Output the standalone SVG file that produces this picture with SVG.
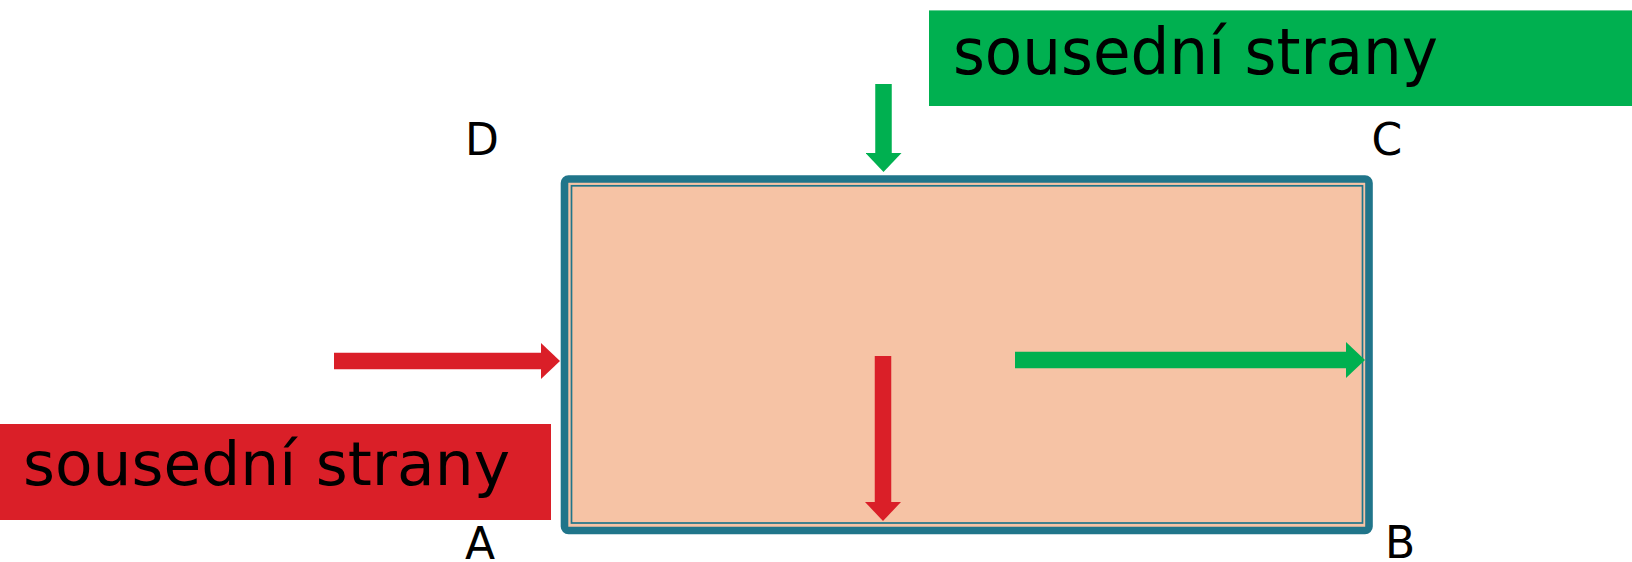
<svg xmlns="http://www.w3.org/2000/svg" width="1632" height="562" viewBox="0 0 1632 562">
  <style>
    .lbl { font-family: "DejaVu Sans", "Liberation Sans", sans-serif; fill: #000; }
    .corner { font-family: "DejaVu Sans", "Liberation Sans", sans-serif; font-size: 44px; fill: #000; }
    .red { stroke: #DA1F28; stroke-width: 16.5; fill: none; }
    .green { stroke: #00B050; stroke-width: 16.5; fill: none; }
  </style>
  <defs>
    <marker id="headRed" markerUnits="userSpaceOnUse" viewBox="0 0 19 36" markerWidth="19" markerHeight="36" refX="1" refY="18" orient="auto">
      <path d="M0,0 L19,18 L0,36 Z" fill="#DA1F28"/>
    </marker>
    <marker id="headGreen" markerUnits="userSpaceOnUse" viewBox="0 0 19 36" markerWidth="19" markerHeight="36" refX="1" refY="18" orient="auto">
      <path d="M0,0 L19,18 L0,36 Z" fill="#00B050"/>
    </marker>
  </defs>

  <g id="rectangle">
    <rect x="564.5" y="179" width="804.5" height="351.5" rx="4" fill="#F6C3A5" stroke="#20758A" stroke-width="7.6"/>
    <rect x="571.5" y="185.8" width="791" height="337.2" fill="none" stroke="#20758A" stroke-width="1.7"/>
  </g>

  <g id="corner-D"><text class="corner" x="465" y="155">D</text></g>
  <g id="corner-C"><text class="corner" x="1371.5" y="155">C</text></g>
  <g id="corner-A"><text class="corner" x="465" y="559">A</text></g>
  <g id="corner-B"><text class="corner" x="1385" y="558">B</text></g>

  <g id="label-green">
    <rect x="929" y="10.4" width="703" height="95.6" fill="#00B050"/>
    <text class="lbl" x="953" y="74" font-size="64" textLength="485" lengthAdjust="spacingAndGlyphs">sousední strany</text>
  </g>

  <g id="label-red">
    <rect x="0" y="424" width="551" height="96" fill="#DA1F28"/>
    <text class="lbl" x="23" y="485" font-size="60" textLength="487" lengthAdjust="spacingAndGlyphs">sousední strany</text>
  </g>

  <g id="connectors">
    <line class="green" x1="883.5" y1="84" x2="883.5" y2="154" marker-end="url(#headGreen)"/>
    <line class="red" x1="334" y1="361" x2="542" y2="361" marker-end="url(#headRed)"/>
    <line class="green" x1="1015" y1="360" x2="1347" y2="360" marker-end="url(#headGreen)"/>
    <line class="red" x1="883" y1="356" x2="883" y2="503" marker-end="url(#headRed)"/>
  </g>
</svg>
